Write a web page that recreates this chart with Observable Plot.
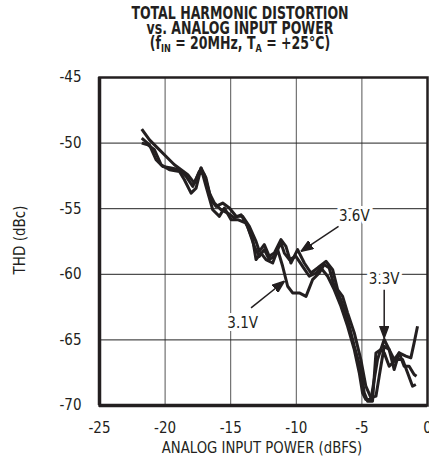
<!DOCTYPE html>
<html>
<head>
<meta charset="utf-8">
<script src="https://cdn.jsdelivr.net/npm/d3@7"></script>
<script src="https://cdn.jsdelivr.net/npm/@observablehq/plot@0.6"></script>
<style>
  body { margin: 0; background: #fff; }
  #wrap { position: relative; width: 429px; height: 465px; overflow: hidden; }
  .nar { font-family: "Liberation Sans Narrow", "DejaVu Sans Condensed", "Roboto Condensed", "Arial Narrow", sans-serif; color: #231f20; }
  .tl { position: absolute; left: 240px; white-space: nowrap; text-align: center; font-weight: bold; font-size: 17px; line-height: 15px; height: 15px;
        transform: translateX(-50%) scaleX(0.82); transform-origin: center; }
  .tl sub { font-size: 11px; vertical-align: -3px; line-height: 0; }
  #ylab { position: absolute; left: 20px; top: 240px; transform: translate(-50%, -50%) rotate(-90deg); white-space: nowrap; font-size: 15px; }
  #xlab { position: absolute; left: 262px; top: 447px; transform: translate(-50%, -50%) scaleX(0.92); white-space: nowrap; font-size: 16px; }
  #chart { position: absolute; left: 0; top: 0; }
</style>
</head>
<body>
<div id="wrap">
  <div id="chart"></div>
  <div class="tl nar" style="top:6px">TOTAL HARMONIC DISTORTION</div>
  <div class="tl nar" style="top:21px">vs. ANALOG INPUT POWER</div>
  <div class="tl nar" style="top:36px">(f<sub>IN</sub> = 20MHz, T<sub>A</sub> = +25°C)</div>
  <div id="ylab" class="nar">THD (dBc)</div>
  <div id="xlab" class="nar">ANALOG INPUT POWER (dBFS)</div>
</div>
<script>
const xTicks = [-25, -20, -15, -10, -5, 0];
const yTicks = [-45, -50, -55, -60, -65, -70];

const x36 = [-21.78,-21.19,-20.56,-19.92,-19.29,-18.78,-18.27,-17.77,-17.26,-16.88,-16.50,-16.12,-15.61,-15.10,-14.59,-14.09,-13.58,-13.07,-12.82,-12.44,-12.06,-11.68,-11.17,-10.79,-10.41,-9.90,-9.39,-8.88,-8.38,-7.74,-7.23,-6.85,-6.47,-6.09,-5.58,-5.08,-4.70,-4.31,-3.93,-3.68,-3.30,-2.92,-2.54,-2.16,-1.78,-1.40,-1.02,-0.84];
const y36 = [-48.93,-49.75,-50.38,-51.02,-51.65,-52.03,-52.41,-53.05,-51.90,-52.66,-54.31,-54.82,-54.57,-54.95,-55.58,-55.58,-56.35,-57.49,-58.25,-57.74,-58.63,-58.38,-57.36,-57.87,-59.14,-58.12,-59.14,-59.90,-59.52,-59.01,-59.64,-61.17,-61.68,-62.94,-64.47,-66.50,-68.53,-69.42,-69.29,-67.77,-65.48,-65.74,-66.50,-65.99,-67.01,-67.01,-67.64,-67.77];

const x31 = [-21.78,-21.32,-20.81,-20.30,-19.67,-18.91,-18.53,-18.02,-17.64,-17.26,-16.88,-16.37,-15.86,-15.48,-14.97,-14.47,-13.83,-13.32,-13.07,-12.69,-12.31,-11.80,-11.42,-11.04,-10.66,-10.28,-9.77,-9.26,-8.76,-8.25,-7.87,-7.49,-7.11,-6.60,-6.09,-5.58,-5.08,-4.82,-4.57,-4.19,-3.93,-3.55,-3.30,-2.92,-2.41,-1.90,-1.52,-1.14,-0.89];
const y31 = [-50.00,-50.13,-50.51,-51.65,-52.03,-52.16,-52.79,-53.81,-53.43,-51.90,-53.30,-55.08,-55.58,-54.95,-55.84,-55.84,-56.09,-57.36,-58.88,-58.38,-58.88,-59.14,-58.12,-59.39,-60.91,-61.42,-61.42,-61.68,-60.41,-59.90,-59.26,-59.52,-60.91,-61.93,-63.45,-65.48,-67.26,-69.04,-69.67,-69.67,-65.99,-65.74,-65.99,-67.01,-66.50,-66.50,-67.51,-68.53,-68.40];

const x33 = [-21.78,-21.19,-20.69,-20.18,-19.54,-18.91,-18.40,-17.89,-17.39,-17.01,-16.62,-16.24,-15.74,-15.23,-14.72,-14.21,-13.71,-13.20,-12.82,-12.44,-12.06,-11.68,-11.17,-10.91,-10.53,-10.03,-9.52,-9.01,-8.50,-8.12,-7.61,-7.11,-6.60,-6.09,-5.58,-5.20,-4.95,-4.70,-4.31,-3.81,-3.30,-2.92,-2.54,-2.16,-1.65,-1.27,-1.02,-0.76];
const y33 = [-49.62,-50.13,-51.27,-51.78,-51.90,-52.03,-52.54,-53.30,-52.16,-52.41,-53.81,-54.57,-55.08,-55.33,-55.71,-55.46,-56.35,-57.87,-58.63,-58.12,-58.88,-58.63,-57.61,-58.38,-58.88,-58.63,-59.39,-60.15,-59.90,-59.52,-60.15,-61.17,-62.44,-63.96,-65.74,-67.51,-69.04,-69.54,-69.54,-66.50,-64.97,-65.74,-67.26,-65.99,-66.24,-66.37,-65.23,-63.96];

const seriesNames = ["3.6V", "3.1V", "3.3V"];
const seriesX = [x36, x31, x33];
const seriesY = [y36, y31, y33];

const annLabels = ["3.6V", "3.1V", "3.3V"];
const annX = [-5.58, -14.09, -3.30];
const annY = [-55.58, -63.71, -60.41];
const arrX1 = [-6.78, -13.45, -3.30];
const arrY1 = [-56.35, -62.56, -61.17];
const arrX2 = [-9.64, -10.91, -3.30];
const arrY2 = [-58.25, -60.53, -64.85];

const table = [];
seriesNames.forEach((s, k) => seriesX[k].forEach((x, i) => table.push({series: s, x, y: seriesY[k][i]})));
const anns = annLabels.map((t, i) => ({t, x: annX[i], y: annY[i]}));
const arrows = annLabels.map((t, i) => ({x1: arrX1[i], y1: arrY1[i], x2: arrX2[i], y2: arrY2[i]}));

function headMarker(color) {
  const ns = "http://www.w3.org/2000/svg";
  const m = document.createElementNS(ns, "marker");
  m.setAttribute("viewBox", "-12 -5 12 10");
  m.setAttribute("refX", "0");
  m.setAttribute("refY", "0");
  m.setAttribute("markerWidth", "12");
  m.setAttribute("markerHeight", "10");
  m.setAttribute("markerUnits", "userSpaceOnUse");
  m.setAttribute("orient", "auto");
  const p = document.createElementNS(ns, "path");
  p.setAttribute("d", "M-12,-4.5L0,0L-12,4.5Z");
  p.setAttribute("fill", color);
  m.appendChild(p);
  return m;
}

const FONT = '"Liberation Sans Narrow", "DejaVu Sans Condensed", "Roboto Condensed", "Arial Narrow", sans-serif';
const INK = "#231f20";

const chart = Plot.plot({
  width: 429,
  height: 465,
  marginLeft: 99,
  marginRight: 2,
  marginTop: 77,
  marginBottom: 60,
  style: {fontFamily: FONT, fontSize: "15px", color: INK, background: "white", overflow: "visible"},
  x: {domain: [-25, 0], ticks: xTicks, tickSize: 0, tickPadding: 17, tickFormat: d => String(d), label: null},
  y: {domain: [-70, -45], ticks: yTicks, tickSize: 0, tickPadding: 18, tickFormat: d => String(d), label: null},
  marks: [
    Plot.ruleX(xTicks, {stroke: "#555", strokeWidth: 1}),
    Plot.ruleY(yTicks, {stroke: "#222", strokeWidth: 1}),
    Plot.text(anns, {x: "x", y: "y", text: "t", fill: INK, stroke: "white", strokeWidth: 6, fontSize: 15}),
    Plot.line(table, {x: "x", y: "y", z: "series", stroke: INK, strokeWidth: 3, strokeLinejoin: "round", strokeLinecap: "butt"}),
    Plot.link(arrows, {x1: "x1", y1: "y1", x2: "x2", y2: "y2", stroke: INK, strokeWidth: 1.5, markerEnd: headMarker}),
    Plot.frame({stroke: INK, strokeWidth: 2.5}),
    Plot.ruleX([-25], {stroke: INK, strokeWidth: 3.5}),
    Plot.ruleY([-70], {stroke: INK, strokeWidth: 3.5})
  ]
});
document.getElementById("chart").appendChild(chart);
</script>
</body>
</html>
